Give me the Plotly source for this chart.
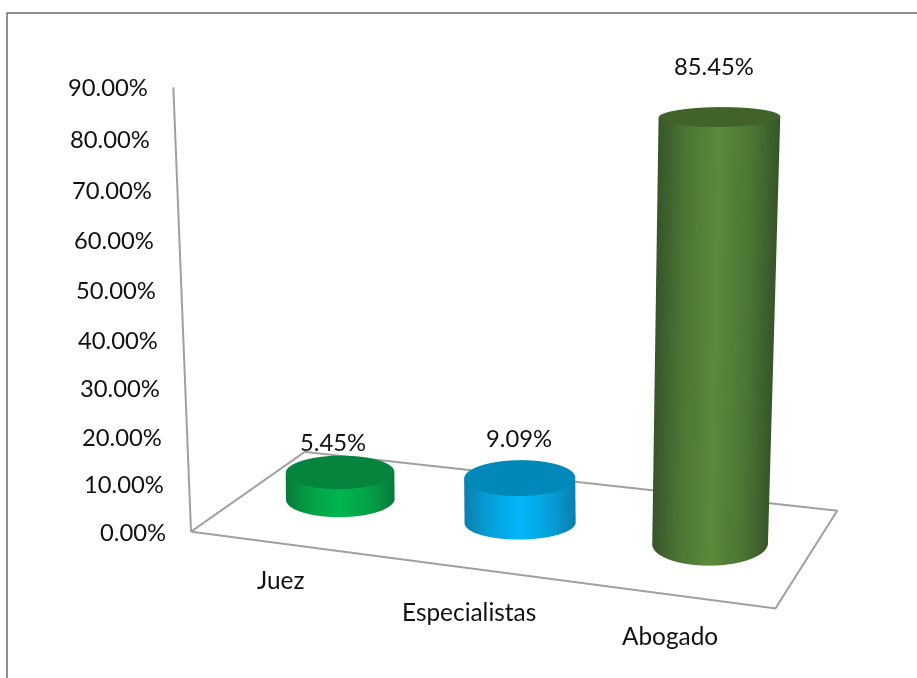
import numpy as np
import plotly.graph_objects as go

categories = ["Juez", "Especialistas", "Abogado"]
values = [5.45, 9.09, 85.45]
value_labels = ["5.45%", "9.09%", "85.45%"]
axis_ticks = [0, 10, 20, 30, 40, 50, 60, 70, 80, 90]
tick_labels = ["0.00%", "10.00%", "20.00%", "30.00%", "40.00%", "50.00%", "60.00%", "70.00%", "80.00%", "90.00%"]
side_centre = ["#00b64f", "#00b8fa", "#5a8a3c"]
side_mid = ["#03a046", "#069fd8", "#4b7534"]
side_edge = ["#057a3a", "#0a7fae", "#37552a"]
cap_colour = ["#05843d", "#0088b8", "#41632a"]

X_RANGE = [-0.2, 3.2]
Y_RANGE = [-0.1, 1.1]
Z_RANGE = [-5, 95]
ZOOM = 1.841
X_ASPECT, Y_ASPECT, Z_ASPECT = 1.0, 0.401, 0.7638
ASPECT = dict(x=X_ASPECT * ZOOM * 3.4 / 3, y=Y_ASPECT * ZOOM * 1.2, z=Z_ASPECT * ZOOM * 100 / 90)
PX = 313.0
DIST = 6.0
RIGHT = np.array([0.9364, 0.3507, -0.0085])
DOWN = np.array([0.1230, -0.3507, -0.9284])
FORWARD = np.cross(RIGHT, DOWN)
SHIFT = (61.5, -31.5)
centre = -(SHIFT[0] / PX * RIGHT + SHIFT[1] / PX * DOWN)
eye = centre - FORWARD * DIST
U = RIGHT[:2] / np.linalg.norm(RIGHT[:2])
V = np.array([-U[1], U[0]])

# perspective of the original approximated per cylinder: base/top centre in axis units,
# half-width in scene units and flattening of the ellipses
base_xy = [(0.53, 0.5245), (1.453, 0.5245), (2.41, 0.565)]
top_xy = [(0.53, 0.5245), (1.453, 0.5245), (2.44, 0.648)]
base_r = [0.087, 0.089, 0.0927]
top_r = [0.087, 0.089, 0.0975]
base_flat = [0.89, 0.81, 1.02]
top_flat = [0.83, 0.87, 0.44]

# floor outline corners (the rear corners draw in, as in the original's perspective)
floor_x = [0, 3, 2.837, 0.154, 0]
floor_y = [0, 0, 1.066, 0.954, 0]
LEAN = -0.07


def ring(c, r, flat, phi):
    px = r * (np.cos(phi) * U[0] + flat * np.sin(phi) * V[0])
    py = r * (np.cos(phi) * U[1] + flat * np.sin(phi) * V[1])
    return c[0] + px * 3 / X_ASPECT, c[1] + py / Y_ASPECT


fig = go.Figure()
phi = np.linspace(0, 2 * np.pi, 241)
flat_lighting = dict(ambient=1, diffuse=0, specular=0, fresnel=0, roughness=1)
for i, v in enumerate(values):
    xb, yb = ring(base_xy[i], base_r[i], base_flat[i], phi)
    xt, yt = ring(top_xy[i], top_r[i], top_flat[i], phi)
    Z = np.vstack([np.zeros_like(phi), np.full_like(phi, v)])
    shade = np.cos(phi)
    fig.add_trace(go.Surface(x=np.vstack([xb, xt]), y=np.vstack([yb, yt]), z=Z,
                             surfacecolor=np.vstack([shade, shade]), cmin=-1, cmax=1, showscale=False,
                             colorscale=[[0, side_edge[i]], [0.22, side_mid[i]], [0.5, side_centre[i]],
                                         [0.78, side_mid[i]], [1, side_edge[i]]],
                             lighting=flat_lighting, hoverinfo="skip"))
    cx = np.vstack([np.full_like(xt, top_xy[i][0]), xt])
    cy = np.vstack([np.full_like(yt, top_xy[i][1]), yt])
    fig.add_trace(go.Surface(x=cx, y=cy, z=np.full_like(cx, v), surfacecolor=np.zeros_like(cx), cmin=-1, cmax=1,
                             showscale=False, colorscale=[[0, cap_colour[i]], [1, cap_colour[i]]],
                             lighting=flat_lighting, hoverinfo="skip"))

fig.add_trace(go.Scatter3d(x=floor_x + [LEAN], y=floor_y + [0], z=[0] * len(floor_x) + [axis_ticks[-1]],
                           mode="lines", line=dict(color="#a0a0a0", width=4), hoverinfo="skip"))

FONT = "Lato"
ann = []
for t, l in zip(axis_ticks, tick_labels):
    nudge = 5.5 * (1 - ((t - 45) / 45) ** 2)
    ann.append(dict(x=LEAN * t / 90, y=0, z=t, text=l, showarrow=False, xanchor="right", xshift=-23, yshift=-nudge,
                    font=dict(family=FONT, size=23.8, color="#111111")))
for i, (c, s) in enumerate(zip(categories, [(-8, 35), (-14, 41), (-8, 40)])):
    ann.append(dict(x=i + 0.5, y=0, z=0, text=c, showarrow=False, xshift=s[0], yshift=-s[1],
                    font=dict(family=FONT, size=24.4, color="#111111")))
for i, (l, s) in enumerate(zip(value_labels, [(-7, 30), (-1, 40), (-5, 51)])):
    ann.append(dict(x=top_xy[i][0], y=top_xy[i][1], z=values[i], text=l, showarrow=False, xshift=s[0], yshift=s[1],
                    font=dict(family=FONT, size=23.8, color="#111111")))

blank = dict(visible=False)
fig.update_layout(
    width=917, height=678, margin=dict(l=0, r=0, t=0, b=0), paper_bgcolor="white", showlegend=False,
    scene=dict(
        domain=dict(x=[0, 1], y=[0, 1]),
        xaxis=dict(range=X_RANGE, autorange=False, **blank),
        yaxis=dict(range=Y_RANGE, autorange=False, **blank),
        zaxis=dict(range=Z_RANGE, autorange=False, **blank),
        aspectmode="manual", aspectratio=ASPECT, bgcolor="white",
        camera=dict(projection=dict(type="orthographic"),
                    eye=dict(x=eye[0], y=eye[1], z=eye[2]),
                    center=dict(x=centre[0], y=centre[1], z=centre[2]),
                    up=dict(x=-DOWN[0], y=-DOWN[1], z=-DOWN[2])),
        annotations=ann),
    shapes=[dict(type="rect", xref="paper", yref="paper", x0=7 / 917, x1=1.01, y0=-0.01, y1=1 - 13 / 678,
                 line=dict(color="#6e6e6e", width=1.5))],
)
fig.write_html("out.html", config=dict(displayModeBar=False),
               post_script="document.body.style.margin='0';document.body.style.overflow='hidden';")
